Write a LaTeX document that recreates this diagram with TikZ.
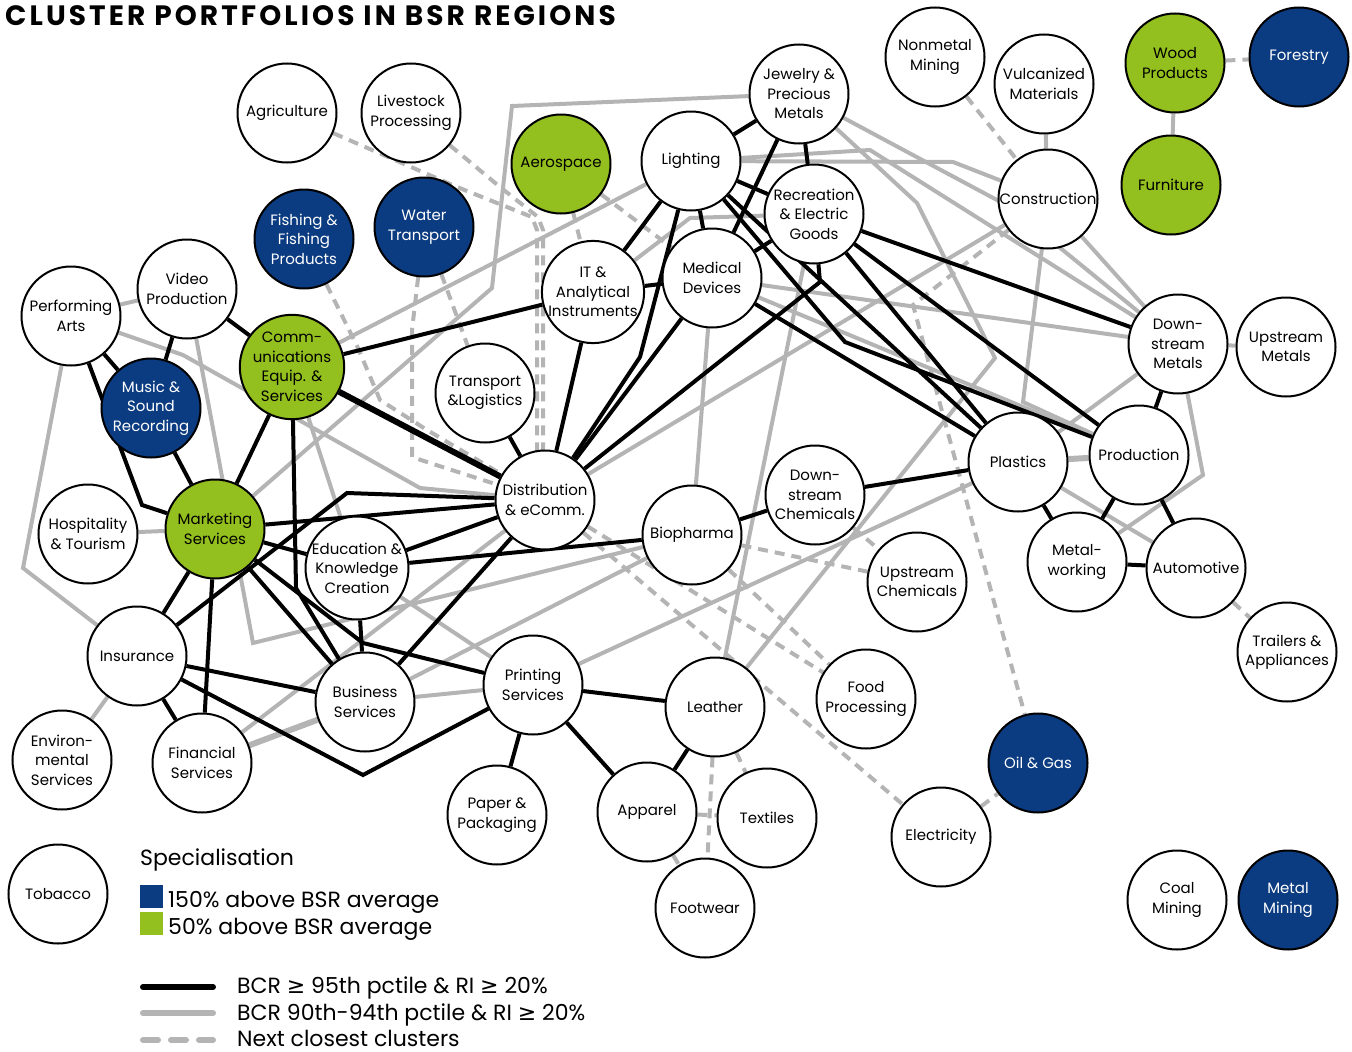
\documentclass[tikz,border=0pt]{standalone}
\usepackage{fontspec}
\setmainfont{Poppins}
\newfontfamily\symfont{DejaVu Sans}
\newfontfamily\headfont{Poppins}[LetterSpace=11]
\usepackage{tikz}
\definecolor{BsrBlue}{RGB}{11,59,128}
\definecolor{BsrGreen}{RGB}{147,192,30}
\definecolor{LinkGray}{RGB}{180,180,180}
\newcommand{\gesym}{{\symfont ≥}}
\pgfdeclarelayer{bg}
\pgfsetlayers{bg,main}
\tikzset{
  clu/.style={circle,draw,line width=2pt,fill=white,minimum size=99pt,inner sep=0pt,
    align=center,font=\fontsize{15}{19.5}\selectfont},
  hiblue/.style={clu,fill=BsrBlue,text=white},
  higreen/.style={clu,fill=BsrGreen},
  blk/.style={line width=4pt,black},
  gry/.style={line width=4pt,LinkGray},
  dsh/.style={line width=4pt,LinkGray,dash pattern=on 10pt off 7pt},
  legtext/.style={anchor=base west,inner sep=0pt,font=\fontsize{22}{26}\selectfont},
  keybox/.style={rectangle,minimum size=23pt,inner sep=0pt},
}

\begin{document}
\begin{tikzpicture}[x=1pt,y=-1pt]
  \useasboundingbox (0,0) rectangle (1352,1052);
  \node[anchor=base west,inner sep=0pt,font=\headfont\bfseries\fontsize{28}{30}\selectfont]
    (title) at (5,25) {CLUSTER PORTFOLIOS IN BSR REGIONS};

  % clusters
  \node[clu] (agri) at (287,113) {Agriculture};
  \node[clu] (live) at (411,113) {Livestock\\Processing};
  \node[higreen] (aero) at (561,164) {Aerospace};
  \node[clu] (light) at (691,161) {Lighting};
  \node[clu] (jewel) at (799,94) {Jewelry \&\\Precious\\Metals};
  \node[clu] (nonmet) at (935,57) {Nonmetal\\Mining};
  \node[clu] (vulc) at (1044,84) {Vulcanized\\Materials};
  \node[higreen] (wood) at (1175,63) {Wood\\Products};
  \node[hiblue] (forest) at (1299,57) {Forestry};
  \node[higreen] (furn) at (1171,185) {Furniture};
  \node[clu] (constr) at (1048,199) {Construction};
  \node[clu] (recr) at (814,214) {Recreation\\\& Electric\\Goods};
  \node[clu] (medic) at (712,278) {Medical\\Devices};
  \node[clu] (itan) at (593,292) {IT \&\\Analytical\\Instruments};
  \node[hiblue] (fish) at (304,239) {Fishing \&\\Fishing\\Products};
  \node[hiblue] (water) at (424,227) {Water\\Transport};
  \node[clu] (video) at (187,289) {Video\\Production};
  \node[clu] (perf) at (71,316) {Performing\\Arts};
  \node[higreen] (comm) at (292,367) {Comm-\\unications\\Equip. \&\\Services};
  \node[hiblue] (music) at (151,408) {Music \&\\Sound\\Recording};
  \node[clu] (trans) at (485,393) {Transport\\\&Logistics};
  \node[clu] (distr) at (545,500) {Distribution\\\& eComm.};
  \node[higreen] (market) at (215,529) {Marketing\\Services};
  \node[clu] (hosp) at (88,534) {Hospitality\\\& Tourism};
  \node[clu] (edu) at (357,568) {Education \&\\Knowledge\\Creation};
  \node[clu] (bioph) at (692,535) {Biopharma};
  \node[clu] (dchem) at (815,495) {Down-\\stream\\Chemicals};
  \node[clu] (uchem) at (917,582) {Upstream\\Chemicals};
  \node[clu] (plast) at (1018,462) {Plastics};
  \node[clu] (prod) at (1139,455) {Production};
  \node[clu] (dmet) at (1178,344) {Down-\\stream\\Metals};
  \node[clu] (umet) at (1286,347) {Upstream\\Metals};
  \node[clu] (metw) at (1077,562) {Metal-\\working};
  \node[clu] (auto) at (1196,568) {Automotive};
  \node[clu] (trail) at (1287,652) {Trailers \&\\Appliances};
  \node[clu] (insur) at (137,656) {Insurance};
  \node[clu] (envir) at (62,760) {Environ-\\mental\\Services};
  \node[clu] (finan) at (202,763) {Financial\\Services};
  \node[clu] (busin) at (365,702) {Business\\Services};
  \node[clu] (print) at (533,685) {Printing\\Services};
  \node[clu] (leath) at (715,707) {Leather};
  \node[clu] (food) at (866,699) {Food\\Processing};
  \node[clu] (paper) at (497,815) {Paper \&\\Packaging};
  \node[clu] (appar) at (647,812) {Apparel};
  \node[clu] (texti) at (767,818) {Textiles};
  \node[clu] (footw) at (705,908) {Footwear};
  \node[clu] (elec) at (941,837) {Electricity};
  \node[hiblue] (oilgas) at (1038,763) {Oil \& Gas};
  \node[clu] (coal) at (1177,900) {Coal\\Mining};
  \node[hiblue] (metmin) at (1288,900) {Metal\\Mining};
  \node[clu] (tobac) at (58,894) {Tobacco};

  \begin{pgfonlayer}{bg}
    % next closest clusters
    \draw[dsh] (agri) -- (457,187) -- (532,217) -- (537,230) -- (537,455) -- (distr);
    \draw[dsh] (live) -- (500,187) -- (538,217) -- (543,230) -- (543,455) -- (distr);
    \draw[dsh] (fish) -- (358,348) -- (380,400) -- (427,430) -- (distr);
    \draw[dsh] (water) -- (412,330) -- (412,457) -- (430,463) -- (distr);
    \draw[dsh] (water) -- (trans);
    \draw[dsh] (aero) -- (itan);
    \draw[dsh] (aero) -- (medic);
    \draw[dsh] (nonmet) -- (constr);
    \draw[dsh] (constr) -- (913,305) -- (oilgas);
    \draw[dsh] (wood) -- (forest);
    \draw[dsh] (auto) -- (trail);
    \draw[dsh] (elec) -- (oilgas);
    \draw[dsh] (distr) -- (elec);
    \draw[dsh] (distr) -- (food);
    \draw[dsh] (bioph) -- (food);
    \draw[dsh] (bioph) -- (uchem);
    \draw[dsh] (dchem) -- (uchem);
    \draw[dsh] (leath) -- (footw);
    \draw[dsh] (leath) -- (texti);
    \draw[dsh] (appar) -- (footw);
    \draw[dsh] (appar) -- (texti);

    % 90th-94th pctile
    \draw[gry] (perf) -- (video);
    \draw[gry] (hosp) -- (market);
    \draw[gry] (insur) -- (envir);
    \draw[gry] (wood) -- (furn);
    \draw[gry] (vulc) -- (constr);
    \draw[gry] (dmet) -- (umet);
    \draw[gry,line width=6pt] (plast) -- (prod);
    \draw[gry] (busin) -- (print);
    \draw[gry,line width=6pt] (finan) -- (busin);
    \draw[gry] (finan) -- (distr);
    \draw[gry] (busin) -- (bioph);
    \draw[gry] (jewel) -- (512,106) -- (492,288) -- (market);
    \draw[gry] (light) -- (comm);
    \draw[gry] (recr) -- (690,218) -- (itan);
    \draw[gry] (perf) -- (183,355) -- (420,488) -- (distr);
    \draw[gry] (perf) -- (23,568) -- (insur);
    \draw[gry] (video) -- (253,643) -- (bioph);
    \draw[gry] (comm) -- (edu);
    \draw[gry] (edu) -- (print);
    \draw[gry] (light) -- (953,162) -- (constr);
    \draw[gry] (light) -- (870,150) -- (dmet);
    \draw[gry] (jewel) -- (1010,207) -- (dmet);
    \draw[gry] (jewel) -- (917,203) -- (995,358) -- (leath);
    \draw[gry] (recr) -- (leath);
    \draw[gry] (medic) -- (bioph);
    \draw[gry] (medic) -- (dmet);
    \draw[gry] (medic) -- (prod);
    \draw[gry] (constr) -- (dmet);
    \draw[gry] (constr) -- (distr);
    \draw[gry] (constr) -- (1023,402) -- (prod);
    \draw[gry] (plast) -- (print);
    \draw[gry] (dmet) -- (plast);
    \draw[gry] (dmet) -- (1203,475) -- (metw);
    \draw[gry] (plast) -- (auto);

    % 95th pctile
    \draw[blk] (video) -- (music);
    \draw[blk] (video) -- (comm);
    \draw[blk] (perf) -- (music);
    \draw[blk] (perf) -- (142,505) -- (market);
    \draw[blk] (music) -- (market);
    \draw[blk] (comm) -- (market);
    \draw[blk] (comm) -- (itan);
    \draw[blk,line width=6pt] (comm) -- (distr);
    \draw[blk] (comm) -- (296,588) -- (busin);
    \draw[blk] (market) -- (distr);
    \draw[blk] (market) -- (edu);
    \draw[blk] (market) -- (insur);
    \draw[blk] (market) -- (finan);
    \draw[blk] (market) -- (busin);
    \draw[blk] (market) -- (363,643) -- (print);
    \draw[blk] (insur) -- (347,493) -- (distr);
    \draw[blk] (insur) -- (busin);
    \draw[blk] (insur) -- (finan);
    \draw[blk] (insur) -- (363,775) -- (print);
    \draw[blk] (busin) -- (distr);
    \draw[blk] (edu) -- (distr);
    \draw[blk] (edu) -- (bioph);
    \draw[blk] (edu) -- (busin);
    \draw[blk] (distr) -- (trans);
    \draw[blk] (distr) -- (itan);
    \draw[blk] (distr) -- (640,357) -- (light);
    \draw[blk] (distr) -- (medic);
    \draw[blk] (distr) -- (820,282) -- (recr);
    \draw[blk] (light) -- (jewel);
    \draw[blk] (light) -- (recr);
    \draw[blk] (jewel) -- (recr);
    \draw[blk] (light) -- (medic);
    \draw[blk] (itan) -- (medic);
    \draw[blk] (medic) -- (recr);
    \draw[blk] (jewel) -- (medic);
    \draw[blk] (light) -- (itan);
    \draw[blk] (light) -- (plast);
    \draw[blk] (light) -- (845,342) -- (prod);
    \draw[blk] (medic) -- (plast);
    \draw[blk] (recr) -- (plast);
    \draw[blk] (recr) -- (prod);
    \draw[blk] (recr) -- (dmet);
    \draw[blk] (dmet) -- (prod);
    \draw[blk] (plast) -- (metw);
    \draw[blk] (prod) -- (metw);
    \draw[blk] (prod) -- (auto);
    \draw[blk] (metw) -- (auto);
    \draw[blk] (plast) -- (dchem);
    \draw[blk] (bioph) -- (dchem);
    \draw[blk] (print) -- (leath);
    \draw[blk] (print) -- (appar);
    \draw[blk] (print) -- (paper);
    \draw[blk] (leath) -- (appar);
  \end{pgfonlayer}

  % legend
  \node[legtext] (spec) at (140,865) {Specialisation};
  \node[keybox,fill=BsrBlue] (keyblue) at (151.5,896.5) {};
  \node[keybox,fill=BsrGreen] (keygreen) at (151.5,923.5) {};
  \node[legtext] (blueinfo) at (168,907) {150\% above BSR average};
  \node[legtext] (greeninfo) at (168,934) {50\% above BSR average};
  \coordinate (blka) at (143,987);  \coordinate (blkb) at (213,987);
  \coordinate (grya) at (143,1013); \coordinate (gryb) at (213,1013);
  \coordinate (dsha) at (143,1040); \coordinate (dshb) at (213,1040);
  \draw[blk,line width=6pt,line cap=round] (blka) -- (blkb);
  \draw[gry,line width=6pt,line cap=round] (grya) -- (gryb);
  \draw[gry,line width=6pt,line cap=round,dash pattern=on 15pt off 13pt] (dsha) -- (dshb);
  \node[legtext] (blkinfo) at (237,993) {BCR \gesym{} 95th pctile \& RI \gesym{} 20\%};
  \node[legtext] (gryinfo) at (237,1020) {BCR 90th-94th pctile \& RI \gesym{} 20\%};
  \node[legtext] (dshinfo) at (237,1046) {Next closest clusters};
\end{tikzpicture}
\end{document}
